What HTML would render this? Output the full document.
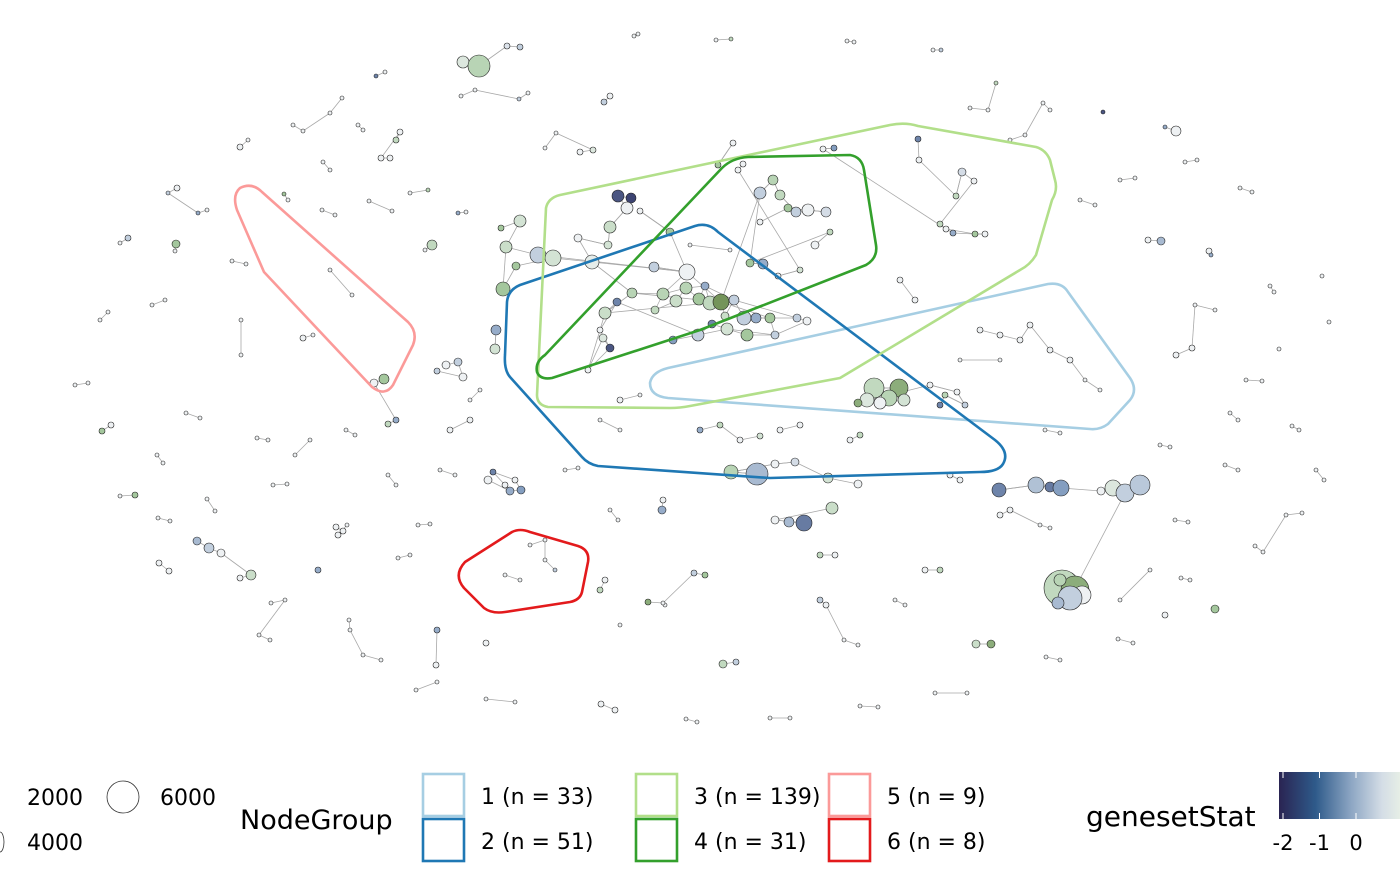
<!DOCTYPE html>
<html><head><meta charset="utf-8">
<style>
html,body{margin:0;padding:0;background:#fff;}
body{width:1400px;height:865px;overflow:hidden;font-family:"DejaVu Sans","Liberation Sans",sans-serif;}
svg text{font-family:"DejaVu Sans","Liberation Sans",sans-serif;}
</style></head>
<body>
<svg id="chart" width="1400" height="865" viewBox="0 0 1400 865" xmlns="http://www.w3.org/2000/svg">
<g id="edges"></g>
<g id="nodes"></g>
<g id="hulls"></g>
<g id="legend"></g>
</svg>
<script>
// nodes: [x, y, size(radius px), genesetStat]
const nodes = [
[463,62,6,0.2],[479,66,11,0.6],[507,46,3,-0.2],[520,47,3,-0.5],[376,76,2,-1.5],[385,72,2,0],
[240,147,3,0],[248,140,2,0],[396,140,3,0.5],[400,132,3,0],[381,158,3,0],[390,158,3,0],
[177,188,3,0],[168,193,2,-0.5],[198,213,2,-1],[207,210,2,0],[128,238,3,-0.5],[120,243,2,0],
[176,244,4,0.8],[175,251,2,0],[284,194,2,0.8],[288,200,2,0],[432,245,5,0.5],[425,250,2,0],
[496,330,5,-1],[495,349,5,0.3],[503,289,7,0.8],[506,247,6,0.4],[520,221,6,0.3],[501,228,3,0.8],
[538,255,8,-0.5],[553,258,8,0.3],[516,266,4,0.8],[618,196,6,-2],[631,198,5,-2.2],[627,208,6,0],
[610,227,6,0.4],[608,245,4,0.3],[578,238,4,0],[592,262,7,0.1],[654,267,5,-0.5],[687,272,8,0],
[670,232,4,0.8],[640,211,3,0],[632,293,5,0.6],[663,294,6,0.6],[655,310,4,0.5],[676,301,6,0.4],
[686,288,6,0.6],[699,299,6,0.8],[705,286,4,-1],[710,303,7,0.5],[721,302,8,1.2],[725,316,4,0.4],
[734,300,5,-0.5],[744,318,7,-0.5],[756,318,5,-1],[770,318,5,0.8],[797,318,4,-0.5],[605,313,6,0.4],
[617,302,4,-1.5],[600,330,3,0],[610,348,4,-2],[603,338,4,0.2],[588,370,3,0],[673,340,4,-1.2],
[698,335,6,-0.5],[712,324,4,-1.5],[727,329,6,0.3],[747,335,6,0.8],[775,335,4,-0.5],[807,321,4,0],
[760,193,6,-0.5],[773,180,5,0.6],[780,195,5,0.5],[796,212,5,-0.5],[808,210,6,0],[826,212,5,-0.3],
[788,208,4,0.8],[760,222,3,0],[815,245,4,0],[830,232,3,0.5],[750,263,4,0.8],[763,264,5,-1],
[778,276,3,0],[800,270,3,0.3],[738,170,3,0],[743,164,3,0],[823,149,3,0],[834,148,3,-1.2],
[718,165,3,0.8],[733,143,3,0],[918,139,3,-1.5],[919,160,3,0],[956,196,3,0.5],[962,172,4,-0.3],
[974,181,3,0],[940,224,3,0.5],[946,229,3,0],[953,233,3,-1],[975,234,3,0.8],[985,234,3,0],
[874,388,10,0.5],[899,388,9,1],[889,398,8,0.6],[867,400,7,0.2],[880,403,6,0],[904,400,6,0.3],
[858,403,4,1],[930,385,3,0],[957,392,3,0],[965,405,3,-0.5],[945,395,3,0.6],[940,405,3,-1.5],
[757,474,11,-0.8],[731,472,7,0.6],[775,464,4,0],[795,462,4,-0.3],[828,478,5,0.3],[858,484,4,0],
[999,490,7,-1.5],[1036,485,8,-0.7],[1050,487,5,-1.6],[1061,488,8,-1.2],[1101,491,4,0],[1113,488,8,0.2],
[1125,493,9,-0.5],[1140,485,10,-0.6],[1062,588,18,0.5],[1075,590,14,1],[1082,595,9,0],[1070,598,12,-0.5],
[1058,603,6,-0.8],[1060,580,6,0.6],[789,522,5,-0.8],[804,523,8,-1.6],[775,520,4,0],[832,508,6,0.4],
[197,541,4,-0.8],[209,548,5,-0.5],[221,553,4,0],[251,575,5,0.4],[240,578,3,0],[318,570,3,-1],
[159,563,3,0],[169,571,3,0],[102,431,3,0.8],[111,425,3,0],[135,495,3,0.8],[120,496,2,0],
[384,379,5,0.8],[374,383,4,0],[396,420,3,-1],[388,424,3,0.5],[446,365,4,0],[458,362,4,-0.5],
[463,377,4,0],[437,371,3,-0.5],[488,480,4,0],[510,491,4,-1],[521,490,4,-1.2],[515,480,3,0],
[493,472,3,-1.5],[505,485,3,0],[437,630,3,-1],[436,665,3,0],[486,643,3,0],[723,664,4,0.5],
[736,662,3,-0.5],[662,510,4,-1],[663,500,3,0],[976,644,4,0.4],[991,644,4,1],[1215,609,4,0.8],
[1165,615,3,0],[1176,131,5,0],[1165,127,2,-1],[1148,240,3,0],[1161,241,4,-0.8],[1103,112,2,-2],
[1209,251,3,0],[1211,255,2,-1],[1322,276,2,0],[1329,322,2,0],[1279,349,2,0],[970,108,2,0],
[988,110,2,0],[996,83,2,0.5],[933,50,2,0],[941,50,2,-0.5],[847,41,2,0],[854,42,2,0],
[634,36,2,0],[638,34,2,0],[716,40,2,0],[731,39,2,0.5],[604,102,3,-0.5],[610,96,3,0],
[580,152,3,0],[593,150,3,0.2],[556,133,2,0],[545,148,2,0],[461,96,2,0],[475,90,2,0],
[519,99,2,-0.5],[528,93,2,0],[342,98,2,0],[330,113,2,0],[303,131,2,0],[293,125,2,0],
[323,162,2,0],[330,170,2,0],[358,125,2,0],[363,130,2,0],[410,193,2,0],[428,190,2,0.6],
[369,201,2,0],[392,211,2,0],[322,210,2,0],[335,215,2,0],[458,213,2,-1],[466,212,2,0],
[232,261,2,0],[246,264,2,0],[241,320,2,0],[241,355,2,0],[330,270,2,0],[352,295,2,0],
[303,338,3,0],[313,335,2,0],[152,305,2,0],[165,300,2,0],[100,320,2,0],[108,312,2,0],
[75,385,2,0],[88,383,2,0],[186,413,2,0],[200,418,2,0],[157,455,2,0],[163,463,2,0],
[207,499,2,0],[215,511,2,0],[158,518,2,0],[170,521,2,0],[273,485,2,0],[287,484,2,0],
[336,527,3,0],[343,531,3,0],[338,535,3,0],[347,525,2,0],[418,525,2,0],[430,524,2,0],
[398,558,2,0],[410,555,2,0],[271,603,2,0],[285,600,2,0],[259,635,2,0],[270,640,2,0],
[349,620,2,0],[350,630,2,0],[363,655,2,0],[381,660,2,0],[416,690,2,0],[437,682,2,0],
[486,699,2,0],[515,702,2,0],[601,704,3,0],[615,710,3,0],[686,719,2,0],[697,722,2,0],
[770,718,2,0],[790,718,2,0],[860,706,2,0],[878,707,2,0],[935,693,2,0],[967,693,2,0],
[1046,657,2,0],[1060,660,2,0],[1118,639,2,0],[1133,643,2,0],[1181,578,2,0],[1190,580,2,0],
[1255,546,2,0],[1263,552,2,0],[1286,515,2,0],[1302,513,2,0],[1316,470,2,0],[1324,480,2,0],
[1292,426,2,0],[1299,430,2,0],[1246,380,2,0],[1262,381,2,0],[1176,355,3,0],[1192,348,3,0],
[1195,305,2,0],[1215,310,2,0],[1270,286,2,0],[1274,292,2,0],[1240,188,2,0],[1252,192,2,0],
[1185,162,2,0],[1197,160,2,0],[1120,180,2,0],[1135,178,2,0],[1080,200,2,0],[1095,205,2,0],
[1010,140,2,0],[1025,135,2,0],[1043,103,2,0],[1050,110,2,0],[620,625,2,0],[665,605,2,0],
[600,590,3,0.5],[605,580,3,0],[648,602,3,1],[663,603,2,0],[694,573,3,-0.5],[705,575,3,0.8],
[820,600,3,-0.5],[826,605,3,0],[844,640,2,0],[858,645,2,0],[925,570,3,0],[940,570,3,0.5],
[820,555,3,0.5],[835,555,3,0],[895,600,2,0],[905,605,2,0],[1120,600,2,0],[1150,570,2,0],
[950,475,3,0],[960,480,3,0],[1000,515,3,0],[1010,510,3,0],[1040,525,2,0],[1050,528,2,0],
[1175,520,2,0],[1188,522,2,0],[1225,465,2,0],[1238,470,2,0],[1230,413,2,0],[1238,420,2,0],
[1160,445,2,0],[1170,447,2,0],[1045,430,2,0],[1060,433,2,0],[530,545,2,0],[545,540,2,0],
[545,560,2,0],[555,570,2,-0.5],[505,575,2,0],[520,580,2,0],[610,510,2,0],[618,520,2,0],
[565,470,2,0],[578,468,2,0],[450,430,3,0],[470,420,3,0],[440,470,2,0],[455,475,2,0],
[470,400,2,0],[480,390,2,0],[295,455,2,0],[310,440,2,0],[257,438,2,0],[268,440,2,0],
[346,430,2,0],[355,435,2,0],[388,475,2,0],[396,485,2,0],[690,245,2,0],[730,250,2,0],
[900,280,3,0],[915,300,3,0],[980,330,3,0],[1000,335,3,0],[1020,340,3,0],[1030,325,3,0],
[1050,350,3,0],[1070,360,3,0],[1085,380,2,0],[1100,390,2,0],[960,360,2,0],[1000,360,2,0],
[780,430,3,0],[800,425,3,0],[700,430,3,-1],[720,425,3,0.5],[740,440,3,0],[760,436,3,0.3],
[850,440,3,0],[860,435,3,0.5],[620,400,3,0],[640,395,2,0],[600,420,2,0],[620,430,2,0]
];
// extra cross-links between nodes (index pairs)
const links = [[41,52],[52,57],[52,72],[52,98],[30,41],[59,52],[52,101],[55,57],[57,118],[49,88],[39,41],[88,98],[98,100],[72,82],[61,64],[64,114],[52,124],[118,126],[126,131],[60,66],[44,52],[131,144],[24,25],[26,32],[27,30],[62,64],[31,39],[39,44],[44,59],[59,61],[41,45],[45,48],[48,50],[50,54],[54,58],[58,71],[66,68],[68,70],[70,57],[36,37],[37,38],[33,35],[35,36],[42,43],[40,41],[84,85],[85,86],[86,87],[72,73],[73,74],[74,75],[75,76],[76,77],[80,81],[81,82],[82,83],[88,89],[90,91],[91,92],[93,94],[94,95],[96,97],[97,98],[100,101],[102,103],[103,104],[104,105],[105,106],[106,107],[108,109],[109,110],[110,111],[111,112],[112,113],[114,115],[115,116],[116,117],[120,121],[121,122],[122,123],[124,125],[125,126],[126,127],[128,129],[129,130],[130,131],[132,133],[133,134],[135,136],[136,137]];
// legend data
const groupLabels = ["1 (n = 33)","2 (n = 51)","3 (n = 139)","4 (n = 31)","5 (n = 9)","6 (n = 8)"];
const groupColors = ["#a6cee3","#1f78b4","#b2df8a","#33a02c","#fb9a99","#e31a1c"];
const statTicks = [-2,-1,0];
const sizeLabels = ["2000","6000","4000"];

const NS="http://www.w3.org/2000/svg";
function mk(t,a,p){const e=document.createElementNS(NS,t);for(const k in a)e.setAttribute(k,a[k]);p.appendChild(e);return e;}
function statColor(s){
  const lerp=(a,b,t)=>a.map((v,i)=>Math.round(v+(b[i]-v)*t));
  let c;
  if(s<0){const t=Math.min(1,-s/2.5);c=t<0.5?lerp([238,241,243],[128,155,190],t*2):lerp([128,155,190],[40,40,90],(t-0.5)*2);}
  else{const t=Math.min(1,s/1.5);c=t<0.5?lerp([238,241,243],[170,205,165],t*2):lerp([170,205,165],[80,110,40],(t-0.5)*2);}
  return `rgb(${c[0]},${c[1]},${c[2]})`;
}
const eg=document.getElementById('edges'), ng=document.getElementById('nodes');
function edge(a,b){const l=mk('line',{x1:a[0],y1:a[1],x2:b[0],y2:b[1],stroke:'#a8a8a8','stroke-width':0.8},eg);

}
for(let i=0;i+1<nodes.length;i++){const a=nodes[i],b=nodes[i+1];if(Math.hypot(a[0]-b[0],a[1]-b[1])<45)edge(a,b);}
links.forEach(p=>{const a=nodes[p[0]],b=nodes[p[1]];if(a&&b&&Math.hypot(a[0]-b[0],a[1]-b[1])<160)edge(a,b);});
nodes.forEach(n=>{const c=mk('circle',{cx:n[0],cy:n[1],r:n[2],fill:statColor(n[3]),stroke:'#222','stroke-width':0.6},ng);

});

const hulls=[
 "M668,368 L1048,284 Q1062,282 1068,292 L1130,378 Q1138,390 1130,400 L1108,424 Q1100,430 1090,429 L668,398 Q650,396 650,383 Q652,372 668,368 Z",
 "M520,285 L695,226 Q708,222 718,232 L995,440 Q1010,452 1003,464 Q998,472 980,472 L770,478 L598,466 Q588,464 582,457 L510,377 Q504,370 505,355 L507,302 Q508,290 520,285 Z",
 "M560,195 L890,125 Q905,122 918,126 L1036,147 Q1046,150 1050,160 L1055,180 Q1058,190 1052,200 L1036,255 Q1030,265 1020,270 L840,378 L690,406 Q680,408 670,408 L548,407 Q537,405 537,395 L546,208 Q548,198 560,195 Z",
 "M545,355 L722,168 Q732,158 748,157 L850,155 Q862,157 864,170 L876,245 Q878,258 866,265 L700,330 L552,378 Q540,380 537,372 Q535,362 545,355 Z",
 "M240,188 Q252,182 262,192 L408,322 Q418,332 413,345 L393,385 Q385,397 372,387 L264,272 L237,210 Q232,195 240,188 Z",
 "M465,562 L512,532 Q520,528 530,532 L578,546 Q590,550 588,562 L582,592 Q580,600 570,602 L505,612 Q492,614 484,608 L464,588 Q453,575 465,562 Z"
];
const hg=document.getElementById('hulls');
hulls.forEach((d,i)=>{const p=mk('path',{d:d,fill:'none',stroke:groupColors[i],'stroke-width':2.6,'stroke-linejoin':'round'},hg);

});

const lg=document.getElementById('legend');
function txt(x,y,s,size,anchor){const t=mk('text',{x:x,y:y,'font-size':size,fill:'#000','text-anchor':anchor||'start'},lg);t.textContent=s;return t;}
let t;
t=txt(27,805,sizeLabels[0],22);  
let c=mk('circle',{cx:123,cy:797,r:16,fill:'none',stroke:'#333','stroke-width':0.8},lg);
 
t=txt(160,805,sizeLabels[1],22);  
t=txt(27,850,sizeLabels[2],22);  
c=mk('path',{d:'M0,832 A4,10 0 0 1 0,852',fill:'none',stroke:'#333','stroke-width':0.8},lg);
 
t=txt(240,829,'NodeGroup',27);  
const colX=[423,636,829], rowY=[774,819];
groupLabels.forEach((lab,i)=>{
 const col=Math.floor(i/2), row=i%2;
 const r=mk('rect',{x:colX[col],y:rowY[row],width:41,height:42,fill:'none',stroke:groupColors[i],'stroke-width':2.6},lg);
 
 
 const tt=txt(colX[col]+58,rowY[row]+30,lab,22);
 
 
});
t=txt(1086,826,'genesetStat',28);  
const defs=mk('defs',{},lg);
const gr=mk('linearGradient',{id:'gs',x1:0,x2:1,y1:0,y2:0},defs);
[[0,'#2a2452'],[0.3,'#2e5a8a'],[0.6,'#8ea7c4'],[0.85,'#d4dde6'],[1,'#e6eee6']].forEach(s=>mk('stop',{offset:s[0],'stop-color':s[1]},gr));
const bar=mk('rect',{x:1279,y:772,width:121,height:47,fill:'url(#gs)'},lg);


statTicks.forEach(v=>{
 const x=1356+v*36.5;
 mk('line',{x1:x,y1:772,x2:x,y2:778,stroke:'#fff','stroke-width':1},lg);
 mk('line',{x1:x,y1:813,x2:x,y2:819,stroke:'#fff','stroke-width':1},lg);
 const tt=txt(x,850,String(v),21,'middle');
 
 
});
</script>
</body></html>
